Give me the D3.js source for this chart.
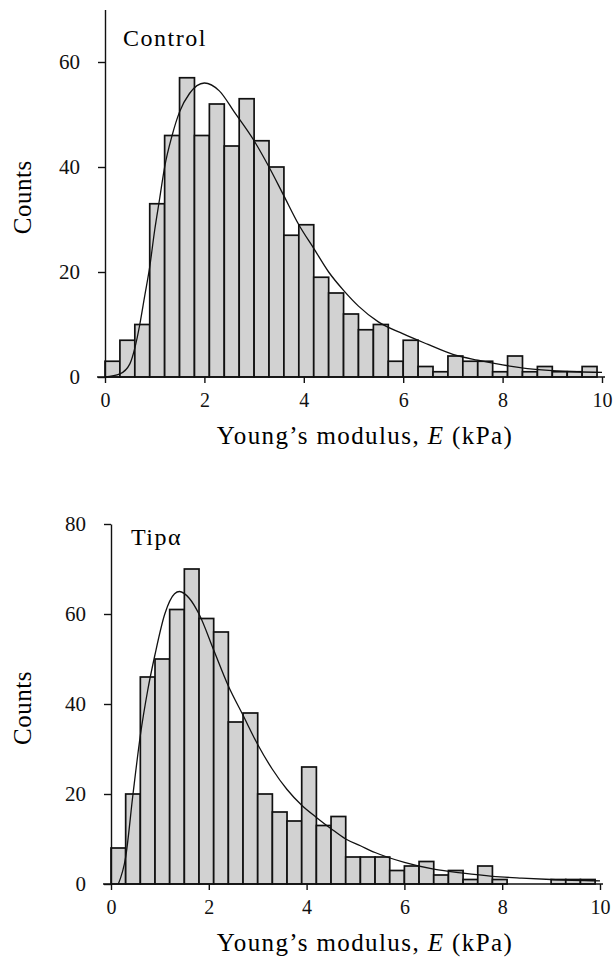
<!DOCTYPE html>
<html>
<head>
<meta charset="UTF-8">
<title>Young's modulus histograms</title>
<script src="https://cdn.jsdelivr.net/npm/d3@7"></script>
<style>
  body { margin: 0; background: #fff; }
  svg { display: block; font-family: "Liberation Serif", "Times New Roman", serif; }
  .bar { fill: #d2d2d2; stroke: #111; stroke-width: 1.7; }
  .fit { fill: none; stroke: #111; stroke-width: 1.3; }
  .axis path, .axis line { stroke: #111; stroke-width: 1.4; }
  .axis text { fill: #111; font-family: "Liberation Serif", "Times New Roman", serif; }
</style>
</head>
<body>
<script>
// histogram bins (left edge, kPa), each 0.3 kPa wide
var binLo = [0, 0.3, 0.6, 0.9, 1.2, 1.5, 1.8, 2.1, 2.4, 2.7, 3.0, 3.3, 3.6, 3.9, 4.2, 4.5,
  4.8, 5.1, 5.4, 5.7, 6.0, 6.3, 6.6, 6.9, 7.2, 7.5, 7.8, 8.1, 8.4, 8.7, 9.0, 9.3, 9.6];
var binWidth = 0.3;

var controlCounts = [3, 7, 10, 33, 46, 57, 46, 52, 44, 53, 45, 40, 27, 29, 19, 16,
  12, 9, 10, 3, 7, 2, 1, 4, 3, 3, 1, 4, 1, 2, 1, 1, 2];
var tipCounts = [8, 20, 46, 50, 61, 70, 59, 56, 36, 38, 20, 16, 14, 26, 13, 15,
  6, 6, 6, 3, 4, 5, 2, 3, 1, 4, 1, 0, 0, 0, 1, 1, 1];

// fitted curves
var controlFitX = [0, 0.3, 0.5, 0.6, 0.7, 0.8, 0.9, 1.0, 1.1, 1.2, 1.35, 1.5, 1.7, 2.0, 2.3, 2.6,
  3.0, 3.3, 3.6, 3.9, 4.2, 4.5, 4.8, 5.1, 5.5, 6.0, 6.5, 7.0, 7.5, 8.0, 8.5, 9.0, 9.5, 10];
var controlFitY = [0, 0.6, 2.5, 5.5, 10, 15.5, 21, 28, 34, 40, 46, 50.5, 54, 56, 54.5, 50.5,
  45, 40, 34.5, 29, 24.5, 20, 16.5, 13.5, 10.5, 8.2, 6.2, 4.3, 3.2, 2.3, 1.6, 1.2, 1.0, 0.9];

var tipFitX = [0.15, 0.3, 0.45, 0.6, 0.75, 0.9, 1.1, 1.3, 1.4, 1.6, 1.8, 2.1, 2.4, 2.7, 3.0,
  3.3, 3.6, 3.9, 4.2, 4.5, 4.8, 5.1, 5.4, 6.0, 6.6, 7.2, 7.8, 8.4, 9.0, 10];
var tipFitY = [0, 6, 20, 33, 43, 51, 60, 64.5, 65, 63.5, 60, 52, 44, 37.5, 31,
  25.5, 21, 17.5, 14.8, 12.3, 10, 8.5, 7, 4.8, 3.3, 2.4, 1.7, 1.3, 1.0, 0.7];

var xTicks = [0, 2, 4, 6, 8, 10];
var controlYTicks = [0, 20, 40, 60];
var tipYTicks = [0, 20, 40, 60, 80];

var svg = d3.select('body').append('svg')
  .attr('width', 615)
  .attr('height', 961);

var panels = [
  { counts: controlCounts, fx: controlFitX, fy: controlFitY, yTicks: controlYTicks,
    label: 'Control', yMax: 70, left: 105, right: 602, base: 377, top: 9.5,
    labelX: 123, labelY: 46 },
  { counts: tipCounts, fx: tipFitX, fy: tipFitY, yTicks: tipYTicks,
    label: 'Tip\u03b1', yMax: 80, left: 111, right: 600, base: 884, top: 524,
    labelX: 131, labelY: 545 }
];

panels.forEach(function(p) {
  var x = d3.scaleLinear().domain([0, 10]).range([p.left, p.right]);
  var y = d3.scaleLinear().domain([0, p.yMax]).range([p.base, p.top]);
  var g = svg.append('g');

  var bins = binLo.map(function(lo, i) { return { lo: lo, n: p.counts[i] }; })
    .filter(function(d) { return d.n > 0; });

  g.selectAll('rect.bar')
    .data(bins)
    .enter()
    .append('rect')
    .attr('class', 'bar')
    .attr('x', function(d) { return x(d.lo); })
    .attr('width', function(d) { return x(d.lo + binWidth) - x(d.lo); })
    .attr('y', function(d) { return y(d.n); })
    .attr('height', function(d) { return y(0) - y(d.n); });

  var line = d3.line()
    .x(function(d) { return x(d[0]); })
    .y(function(d) { return y(d[1]); })
    .curve(d3.curveMonotoneX);

  g.append('path')
    .attr('class', 'fit')
    .attr('d', line(d3.zip(p.fx, p.fy)));

  // axes
  var xAxis = g.append('g')
    .attr('class', 'axis')
    .attr('transform', 'translate(0,' + p.base + ')')
    .call(d3.axisBottom(x).tickValues(xTicks).tickSize(6).tickSizeOuter(0).tickPadding(10));
  xAxis.select('.domain').attr('d', 'M' + (p.left - 8) + ',0H' + (p.right + 3));
  xAxis.selectAll('text').attr('font-size', 20);

  var yAxis = g.append('g')
    .attr('class', 'axis')
    .attr('transform', 'translate(' + p.left + ',0)')
    .call(d3.axisLeft(y).tickValues(p.yTicks).tickSize(7).tickSizeOuter(0).tickPadding(18));
  yAxis.selectAll('text').attr('font-size', 21);

  g.append('text')
    .attr('x', p.labelX)
    .attr('y', p.labelY)
    .attr('font-size', 24)
    .attr('letter-spacing', 1.5)
    .text(p.label);

  g.append('text')
    .attr('transform', 'translate(31,' + ((p.base + p.top) / 2 + 4) + ') rotate(-90)')
    .attr('text-anchor', 'middle')
    .attr('font-size', 25)
    .attr('letter-spacing', 0.5)
    .text('Counts');

  var t = g.append('text')
    .attr('x', 365)
    .attr('y', p.base + 67)
    .attr('text-anchor', 'middle')
    .attr('font-size', 25)
    .attr('letter-spacing', 1.4);
  t.append('tspan').text('Young\u2019s modulus, ');
  t.append('tspan').attr('font-style', 'italic').text('E');
  t.append('tspan').text(' (kPa)');
});
</script>
</body>
</html>
